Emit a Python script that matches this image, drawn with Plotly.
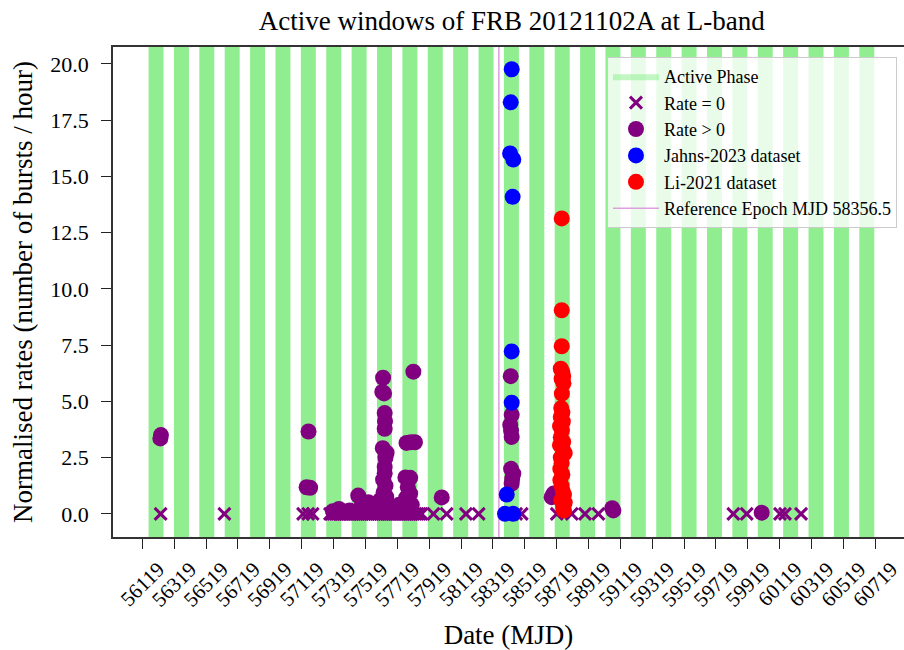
import plotly.graph_objects as go

# ---------------- data ----------------
REFERENCE_EPOCH = 58356.5
PERIOD = 159.3
ACTIVE_PHASE_START = 0.20
ACTIVE_PHASE_END = 0.79
CYCLES = list(range(-14, 15))

X_TICKS = [56119, 56319, 56519, 56719, 56919, 57119, 57319, 57519, 57719, 57919,
           58119, 58319, 58519, 58719, 58919, 59119, 59319, 59519, 59719, 59919,
           60119, 60319, 60519, 60719]
Y_TICKS = [0.0, 2.5, 5.0, 7.5, 10.0, 12.5, 15.0, 17.5, 20.0]

rate0_mjd = [56234, 56634,
             57128, 57160, 57188,
             57297, 57306, 57318, 57331, 57342, 57355, 57366, 57379, 57391, 57404,
             57416, 57427, 57440, 57452, 57465, 57478, 57490, 57501, 57514, 57527,
             57539, 57552, 57563, 57576, 57589, 57600, 57612, 57625, 57637, 57650,
             57662, 57674, 57687, 57699, 57711, 57724, 57736, 57748, 57761, 57773,
             57785, 57798, 57810, 57822, 57835, 57847, 57860, 57872,
             57946, 58029, 58150, 58230,
             58440, 58465, 58500,
             58720, 58814, 58897, 58981,
             59828, 59912, 60121, 60152, 60253]

pos_mjd = [56232, 56236,
           57150, 57172, 57162,
           57315, 57353, 57380, 57420, 57474, 57497, 57537, 57560, 57590, 57610,
           57700, 57730, 57745,
           57630, 57625, 57636, 57640, 57642, 57640, 57628, 57652, 57645, 57640,
           57630, 57645, 57633, 57650, 57638, 57620, 57660, 57640,
           57820, 57777, 57805, 57830, 57770, 57800, 57785, 57775, 57800, 57810, 57765,
           57998,
           58431, 58437, 58428, 58437, 58433, 58433, 58447, 58437, 58440,
           58688, 58700,
           59075, 59068,
           60006]
pos_rate = [3.35, 3.50,
            1.18, 1.16, 3.66,
            0.12, 0.22, 0.10, 0.15, 0.81, 0.40, 0.52, 0.15, 0.30, 0.60,
            0.25, 0.40, 0.15,
            6.05, 5.42, 5.35, 4.48, 4.12, 3.78, 2.92, 2.72, 2.50, 2.08,
            1.52, 1.25, 0.95, 0.75, 0.55, 0.30, 0.35, 1.80,
            6.32, 3.15, 3.18, 3.18, 1.62, 1.60, 1.18, 0.72, 0.90, 0.40, 0.25,
            0.73,
            6.12, 4.40, 3.95, 3.42, 3.70, 2.00, 1.78, 1.34, 1.55,
            0.74, 0.90,
            0.15, 0.25,
            0.05]

jahns_mjd = [58437, 58431, 58427, 58447, 58443, 58437, 58437, 58406, 58395, 58445]
jahns_rate = [19.76, 18.29, 16.02, 15.75, 14.09, 7.22, 4.94, 0.86, 0.0, 0.0]

li_mjd = [58751, 58751, 58751, 58745, 58755, 58760, 58750, 58762, 58752, 58748,
          58755, 58745, 58758, 58740, 58752, 58745, 58760, 58740, 58755, 58770,
          58745, 58750, 58742, 58755, 58742, 58750, 58758, 58765, 58748, 58770,
          58760, 58765]
li_rate = [13.13, 9.05, 7.45, 6.45, 6.30, 6.10, 6.00, 5.80, 5.34, 4.70,
           4.50, 4.30, 4.10, 3.90, 3.70, 3.40, 3.20, 3.05, 2.95, 2.70,
           2.50, 2.25, 2.00, 1.75, 1.50, 1.25, 1.00, 0.85, 0.60, 0.50,
           0.30, 0.15]

X_RANGE = [55935, 60899]
Y_RANGE = [-1.03, 20.75]

SERIF = "Liberation Serif, Times New Roman, serif"
GREEN = "#90EE90"

fig = go.Figure()

# active phase windows (computed from epoch and period)
shapes = []
for k in CYCLES:
    s = REFERENCE_EPOCH + (k + ACTIVE_PHASE_START) * PERIOD
    e = REFERENCE_EPOCH + (k + ACTIVE_PHASE_END) * PERIOD
    shapes.append(dict(type="rect", xref="x", yref="paper", x0=s, x1=e, y0=0, y1=1,
                       fillcolor=GREEN, line=dict(width=0), layer="below"))

# legend proxy for active phase (placed outside the visible range)
fig.add_trace(go.Scatter(x=[X_RANGE[0] - 500, X_RANGE[0] - 400, X_RANGE[0] - 400, X_RANGE[0] - 500],
                         y=[0, 0, 1, 1], fill="toself", mode="lines",
                         fillcolor="rgba(144,238,144,0.55)",
                         line=dict(width=0, color="rgba(144,238,144,0.55)"),
                         name="Active Phase", legendrank=1, hoverinfo="skip"))

# reference epoch line
fig.add_trace(go.Scatter(x=[REFERENCE_EPOCH, REFERENCE_EPOCH], y=Y_RANGE, mode="lines",
                         line=dict(color="plum", width=1.5),
                         name="Reference Epoch MJD 58356.5", legendrank=6))

fig.add_trace(go.Scatter(x=rate0_mjd, y=[0.0] * len(rate0_mjd), mode="markers",
                         marker=dict(symbol="x-thin", size=12, color="purple",
                                     line=dict(width=3, color="purple")),
                         name="Rate = 0", legendrank=2))
fig.add_trace(go.Scatter(x=pos_mjd, y=pos_rate, mode="markers",
                         marker=dict(symbol="circle", size=16, color="purple", line=dict(width=0)),
                         name="Rate > 0", legendrank=3))
fig.add_trace(go.Scatter(x=jahns_mjd, y=jahns_rate, mode="markers",
                         marker=dict(symbol="circle", size=16, color="blue", line=dict(width=0)),
                         name="Jahns-2023 dataset", legendrank=4))
fig.add_trace(go.Scatter(x=li_mjd, y=li_rate, mode="markers",
                         marker=dict(symbol="circle", size=16, color="red", line=dict(width=0)),
                         name="Li-2021 dataset", legendrank=5))

fig.update_layout(
    width=904, height=650,
    margin=dict(l=113, r=0, t=47, b=113),
    paper_bgcolor="white", plot_bgcolor="white",
    shapes=shapes,
    font=dict(family=SERIF, color="black"),
    title=dict(text="Active windows of FRB 20121102A at L-band", xref="paper", x=0.504,
               xanchor="center", y=1 - 21 / 650, yanchor="middle",
               font=dict(size=27, family=SERIF)),
    showlegend=True,
    legend=dict(x=0.6245, y=0.9796, xanchor="left", yanchor="top", itemwidth=46,
                bgcolor="rgba(255,255,255,0.8)", bordercolor="#cccccc", borderwidth=1,
                font=dict(size=18, family=SERIF)),
)

fig.update_xaxes(range=X_RANGE, tickmode="array", tickvals=X_TICKS,
                 ticktext=[str(v) for v in X_TICKS], tickangle=-45,
                 ticks="outside", ticklen=10, tickwidth=1.3, tickcolor="#222",
                 showline=True, linecolor="#333", linewidth=1.5, mirror=True,
                 showgrid=False, zeroline=False, ticklabelshift=16,
                 ticklabeloverflow="allow", automargin=False,
                 tickfont=dict(size=21, family=SERIF),
                 title=dict(text="Date (MJD)", font=dict(size=27, family=SERIF), standoff=16))
fig.update_yaxes(range=Y_RANGE, tickmode="array", tickvals=Y_TICKS,
                 ticktext=[f"{v:.1f}" for v in Y_TICKS],
                 ticks="outside", ticklen=10, tickwidth=1.3, tickcolor="#222",
                 showline=True, linecolor="#333", linewidth=1.5, mirror=False,
                 showgrid=False, zeroline=False, ticklabelstandoff=8, automargin=False,
                 tickfont=dict(size=22, family=SERIF),
                 title=dict(text="Normalised rates (number of bursts / hour)",
                            font=dict(size=27, family=SERIF), standoff=10))

fig.write_html("out.html", config={"displayModeBar": False},
               post_script="document.body.style.margin='0';document.body.style.overflow='hidden';")
